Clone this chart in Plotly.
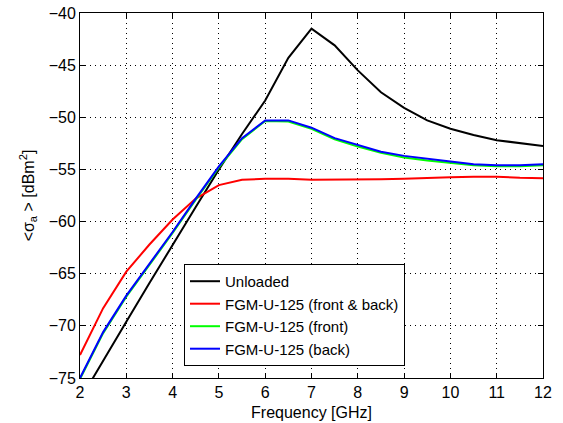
import plotly.graph_objects as go

freq = [2.0, 2.5, 3.0, 3.5, 4.0, 4.5, 5.0, 5.5, 6.0, 6.5, 7.0, 7.5, 8.0, 8.5, 9.0, 9.5, 10.0, 10.5, 11.0, 11.5, 12.0]

unloaded = [-77.1, -73.3, -69.6, -65.9, -62.2, -58.6, -55.0, -51.6, -48.4, -44.3, -41.5, -43.1, -45.5, -47.6, -49.1, -50.3, -51.1, -51.7, -52.2, -52.5, -52.75]
front_back = [-72.8, -68.3, -64.8, -62.2, -59.8, -57.8, -56.5, -56.0, -55.9, -55.9, -56.0, -56.0, -56.0, -55.95, -55.9, -55.8, -55.75, -55.7, -55.7, -55.8, -55.85]
front = [-75.1, -70.7, -67.2, -64.2, -61.1, -57.9, -54.8, -52.1, -50.35, -50.4, -51.1, -52.1, -52.8, -53.4, -53.85, -54.15, -54.4, -54.6, -54.7, -54.7, -54.6]
back = [-75.0, -70.6, -67.1, -64.1, -61.0, -57.8, -54.7, -52.0, -50.3, -50.3, -51.0, -52.0, -52.65, -53.3, -53.7, -54.0, -54.25, -54.5, -54.6, -54.6, -54.5]

names = ["Unloaded", "FGM-U-125 (front &amp; back)", "FGM-U-125 (front)", "FGM-U-125 (back)"]
colors = ["#000000", "#ff0000", "#00ff00", "#0000ff"]
series = [unloaded, front_back, front, back]

x_ticks = [2, 3, 4, 5, 6, 7, 8, 9, 10, 11, 12]
y_ticks = [-75, -70, -65, -60, -55, -50, -45, -40]

fig = go.Figure()
for name, col, ys in zip(names, colors, series):
    fig.add_trace(go.Scatter(x=freq, y=ys, mode="lines", name=name,
                             line=dict(color=col, width=2)))

axis_common = dict(
    showline=True, linecolor="black", linewidth=1, mirror="ticks",
    ticks="inside", ticklen=5, tickcolor="black",
    showgrid=True, gridcolor="black", griddash="1px,4px", gridwidth=1,
    zeroline=False, tickfont=dict(size=16, color="black"), automargin=False,
)

fig.update_xaxes(range=[2, 12], tickvals=x_ticks,
                 title=dict(text="Frequency [GHz]", font=dict(size=16, color="black"), standoff=6),
                 **axis_common)
fig.update_yaxes(range=[-75, -40], tickvals=y_ticks,
                 title=dict(text="&lt;σ<sub>a</sub> &gt; [dBm<sup>2</sup>]", font=dict(size=16, color="black"), standoff=10),
                 **axis_common)

fig.update_layout(
    width=563, height=423,
    margin=dict(l=80, r=20, t=13, b=45),
    paper_bgcolor="white", plot_bgcolor="white",
    font=dict(family="Liberation Sans, Arial, sans-serif", color="black"),
    legend=dict(x=0.2246, y=0.033, xanchor="left", yanchor="bottom",
                bgcolor="white", bordercolor="black", borderwidth=1,
                font=dict(size=15, color="black"), tracegroupgap=0),
    showlegend=True,
)

fig.write_html("out.html", config={"displayModeBar": False},
               post_script="document.body.style.margin='0';document.body.style.overflow='hidden';")
